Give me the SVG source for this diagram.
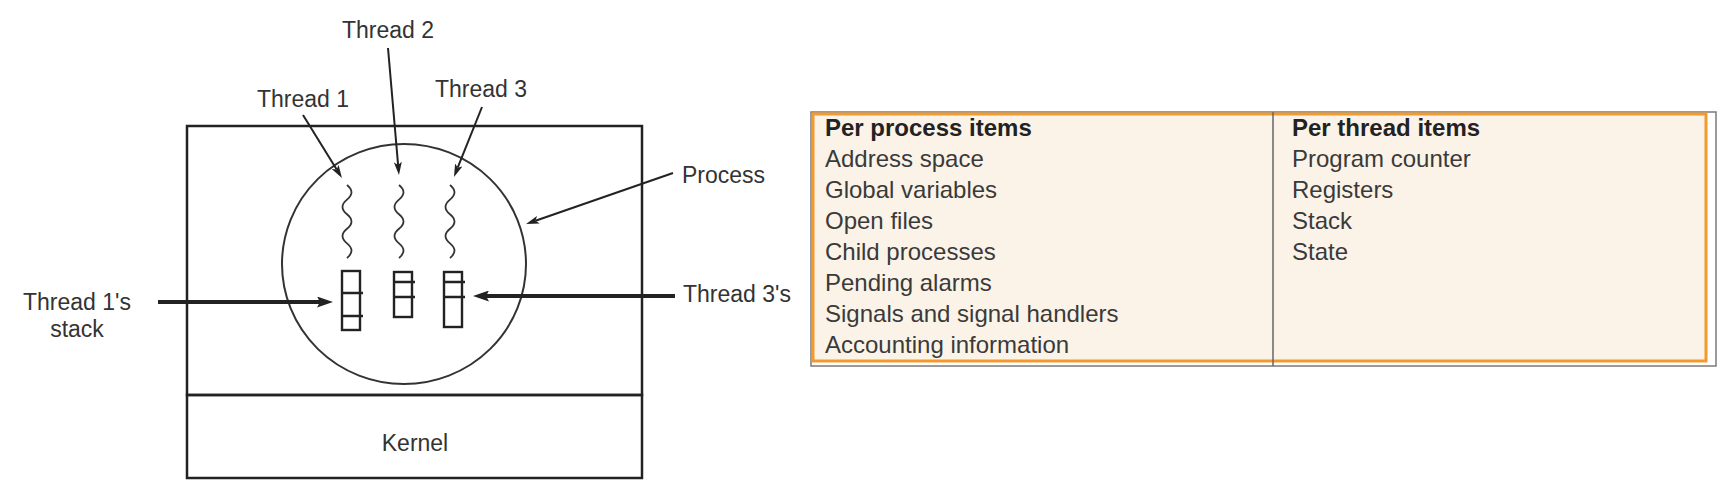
<svg xmlns="http://www.w3.org/2000/svg" width="1727" height="489" viewBox="0 0 1727 489">
  <defs>
    <marker id="thin" viewBox="0 0 13 8" refX="3" refY="4" markerWidth="13" markerHeight="8" markerUnits="userSpaceOnUse" orient="auto">
      <path d="M0,0 L13,4 L0,8 L3,4 z" fill="#222"/>
    </marker>
    <marker id="thick" viewBox="0 0 16 11" refX="3" refY="5.5" markerWidth="16" markerHeight="11" markerUnits="userSpaceOnUse" orient="auto">
      <path d="M0,0 L16,5.5 L0,11 L3,5.5 z" fill="#222"/>
    </marker>
    <style>
      .lbl { font-family: "Liberation Sans", Arial, sans-serif; font-size: 23px; fill: #333; }
      .box { fill: none; stroke: #222; stroke-width: 2.5; }
      .thin { stroke: #222; stroke-width: 2; fill: none; }
      .wave { stroke: #333; stroke-width: 1.8; fill: none; }
      .stk { fill: none; stroke: #222; stroke-width: 2.4; }
      .tt { font-family: "Liberation Sans", Arial, sans-serif; font-size: 24px; fill: #3a3a3a; }
      .th { font-family: "Liberation Sans", Arial, sans-serif; font-size: 24px; font-weight: bold; fill: #222; }
    </style>
  </defs>
  <rect width="1727" height="489" fill="#ffffff"/>

  <g id="user-space">
    <rect class="box" x="187" y="126" width="455" height="269"/>
  </g>
  <g id="kernel">
    <rect class="box" x="187" y="395" width="455" height="83"/>
    <text class="lbl" x="415" y="451" text-anchor="middle">Kernel</text>
  </g>
  <g id="process">
    <ellipse cx="404" cy="264" rx="122" ry="120" fill="none" stroke="#333" stroke-width="2"/>
  </g>
  <g id="thread1">
    <path class="wave" d="M347,185 q9,7.3 0,14.6 t0,14.6 t0,14.6 t0,14.6 t0,14.6"/>
  </g>
  <g id="thread2">
    <path class="wave" d="M399,185 q9,7.3 0,14.6 t0,14.6 t0,14.6 t0,14.6 t0,14.6"/>
  </g>
  <g id="thread3">
    <path class="wave" d="M450,185 q9,7.3 0,14.6 t0,14.6 t0,14.6 t0,14.6 t0,14.6"/>
  </g>
  <g id="stack1">
    <rect class="stk" x="342" y="271" width="18" height="59"/>
    <path class="stk" d="M342,293 H363 M342,316 H363"/>
  </g>
  <g id="stack2">
    <rect class="stk" x="394" y="272" width="18" height="45"/>
    <path class="stk" d="M394,282 H415 M394,297 H415"/>
  </g>
  <g id="stack3">
    <rect class="stk" x="444" y="272" width="18" height="55"/>
    <path class="stk" d="M444,282 H465 M444,297 H465"/>
  </g>

  <g id="labels">
    <text class="lbl" x="342" y="38">Thread 2</text>
    <text class="lbl" x="257" y="107">Thread 1</text>
    <text class="lbl" x="435" y="97">Thread 3</text>
    <text class="lbl" x="682" y="183">Process</text>
    <text class="lbl" x="683" y="302">Thread 3's</text>
    <text class="lbl" x="77" y="310" text-anchor="middle">Thread 1's</text>
    <text class="lbl" x="77" y="337" text-anchor="middle">stack</text>
  </g>

  <g id="connectors">
    <line class="thin" x1="303" y1="115" x2="336.7" y2="169.5" marker-end="url(#thin)"/>
    <line class="thin" x1="388" y1="48" x2="398.1" y2="165" marker-end="url(#thin)"/>
    <line class="thin" x1="482" y1="107" x2="457.7" y2="167.7" marker-end="url(#thin)"/>
    <line class="thin" x1="673" y1="173" x2="535.5" y2="220.7" marker-end="url(#thin)"/>
    <line stroke="#222" stroke-width="4" x1="158" y1="302" x2="320" y2="302" marker-end="url(#thick)"/>
    <line stroke="#222" stroke-width="4" x1="675" y1="296" x2="486" y2="296" marker-end="url(#thick)"/>
  </g>

  <g id="table">
    <rect x="811" y="112" width="905" height="254" fill="#ffffff" stroke="#7a7a7a" stroke-width="1.5"/>
    <rect x="813" y="114" width="893" height="247" fill="#fcf3e8" stroke="#f39a2c" stroke-width="3"/>
    <line x1="1273" y1="112" x2="1273" y2="366" stroke="#666" stroke-width="1.5"/>
    <g id="col-process">
      <text class="th" x="825" y="136">Per process items</text>
      <text class="tt" x="825" y="167">Address space</text>
      <text class="tt" x="825" y="198">Global variables</text>
      <text class="tt" x="825" y="229">Open files</text>
      <text class="tt" x="825" y="260">Child processes</text>
      <text class="tt" x="825" y="291">Pending alarms</text>
      <text class="tt" x="825" y="322">Signals and signal handlers</text>
      <text class="tt" x="825" y="353">Accounting information</text>
    </g>
    <g id="col-thread">
      <text class="th" x="1292" y="136">Per thread items</text>
      <text class="tt" x="1292" y="167">Program counter</text>
      <text class="tt" x="1292" y="198">Registers</text>
      <text class="tt" x="1292" y="229">Stack</text>
      <text class="tt" x="1292" y="260">State</text>
    </g>
  </g>
</svg>
